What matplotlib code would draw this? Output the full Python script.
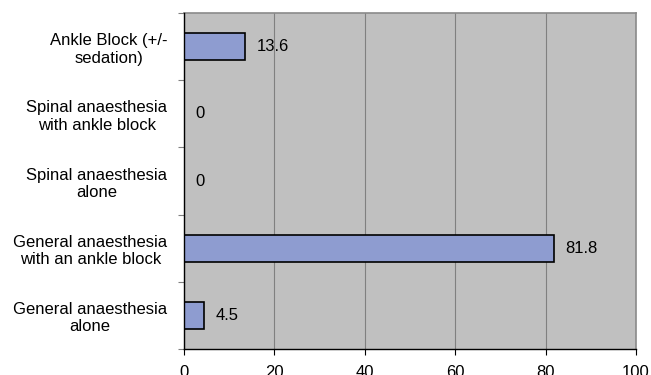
import matplotlib.pyplot as plt
import numpy as np

categories = [
    "General anaesthesia\nalone",
    "General anaesthesia\nwith an ankle block",
    "Spinal anaesthesia\nalone",
    "Spinal anaesthesia\nwith ankle block",
    "Ankle Block (+/-\nsedation)",
]
values = [4.5, 81.8, 0, 0, 13.6]
xticks = [0, 20, 40, 60, 80, 100]

plt.rcParams['font.family'] = ['Liberation Sans', 'DejaVu Sans']
plt.rcParams['font.size'] = 12

fig = plt.figure(figsize=(6.51, 3.75), dpi=100)
ax = fig.add_axes([0.2826, 0.0693, 0.6944, 0.896])
ax.set_facecolor('#c0c0c0')

pos = np.arange(len(categories))
ax.barh(pos, values, height=0.4, color='#8e9cd0', edgecolor='black', linewidth=1.2, zorder=3)

for p, v in zip(pos, values):
    ax.annotate(f"{v:g}", (v, p), xytext=(8, 0), textcoords='offset points',
                va='center', ha='left', fontsize=12, zorder=4)

ax.set_xlim(0, 100)
ax.set_ylim(-0.5, len(categories) - 0.5)
ax.set_xticks(xticks)
ax.set_xticklabels([str(t) for t in xticks])

# category labels sit between the tick marks, which fall on the boundaries
ax.set_yticks(np.arange(len(categories) + 1) - 0.5)
ax.set_yticklabels([])
ax.set_yticks(pos, minor=True)
ax.set_yticklabels(categories, minor=True, multialignment='center', linespacing=1.2)
ax.tick_params(axis='y', which='minor', length=0, pad=12)
ax.tick_params(axis='y', which='major', length=4, direction='out', color='#808080')
ax.tick_params(axis='x', length=4, direction='out', pad=7.5)

ax.grid(axis='x', color='#808080', linewidth=0.8, zorder=1)
for side in ['top', 'right']:
    ax.spines[side].set_color('#8a8a8a')
    ax.spines[side].set_linewidth(1.2)
for side in ['left', 'bottom']:
    ax.spines[side].set_color('black')
    ax.spines[side].set_linewidth(1.0)
    ax.spines[side].set_zorder(5)

fig.savefig('out.png', dpi=100)
